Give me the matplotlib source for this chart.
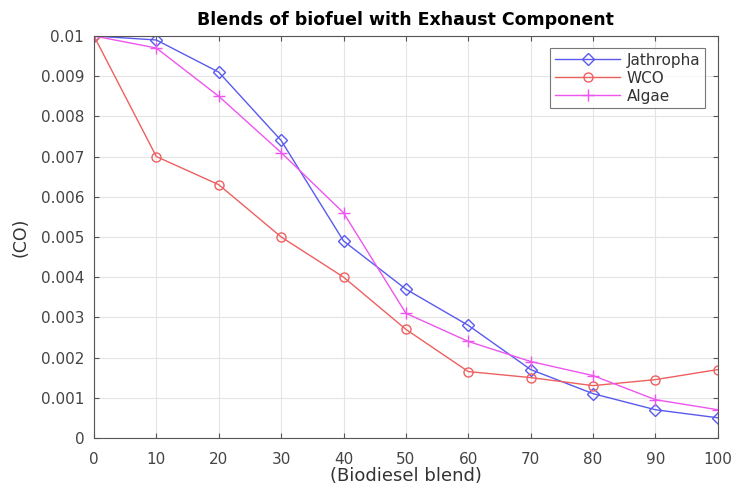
import matplotlib
matplotlib.use('Agg')
import matplotlib.pyplot as plt
import numpy as np

# Data
blend = [0, 10, 20, 30, 40, 50, 60, 70, 80, 90, 100]
jathropha = [0.0100, 0.0099, 0.0091, 0.0074, 0.0049, 0.0037, 0.0028, 0.0017, 0.0011, 0.0007, 0.0005]
wco = [0.0100, 0.0070, 0.0063, 0.0050, 0.0040, 0.0027, 0.00165, 0.0015, 0.0013, 0.00145, 0.0017]
algae = [0.0100, 0.0097, 0.0085, 0.0071, 0.0056, 0.0031, 0.0024, 0.0019, 0.00155, 0.00095, 0.0007]

yticks = [0, 0.001, 0.002, 0.003, 0.004, 0.005, 0.006, 0.007, 0.008, 0.009, 0.01]
ytick_labels = ['0', '0.001', '0.002', '0.003', '0.004', '0.005', '0.006', '0.007', '0.008', '0.009', '0.01']

fig = plt.figure(figsize=(7.34, 4.86), dpi=100)
ax = fig.add_axes([0.128, 0.099, 0.850, 0.827])

ax.plot(blend, jathropha, '-D', color='#5a5aee', markerfacecolor='none', markersize=6, lw=1.0, label='Jathropha')
ax.plot(blend, wco, '-o', color='#ee6060', markerfacecolor='none', markersize=6.5, lw=1.0, label='WCO')
ax.plot(blend, algae, '-+', color='#ee55ee', markersize=8, lw=1.0, label='Algae')

ax.set_xlim(0, 100)
ax.set_ylim(0, 0.01)
ax.set_xticks(blend)
ax.set_yticks(yticks)
ax.set_yticklabels(ytick_labels)
ax.tick_params(direction='in', top=True, right=True, labelsize=11, colors='#555555', labelcolor='#444444')
ax.tick_params(axis='x', pad=10)
ax.tick_params(axis='y', pad=7)
ax.grid(True, color='#e4e4e4', lw=0.8)
for s in ax.spines.values():
    s.set_color('#555555')

ax.set_title('Blends of biofuel with Exhaust Component', fontsize=12.5, fontweight='bold', pad=8)
ax.set_xlabel('(Biodiesel blend)', fontsize=13, color='#333333', labelpad=0)
ax.set_ylabel('(CO)', fontsize=12.5, color='#333333', labelpad=8)

leg = ax.legend(loc='upper right', bbox_to_anchor=(0.979, 0.970), borderaxespad=0,
                fancybox=False, edgecolor='#555555', fontsize=11,
                handlelength=4.3, handletextpad=0.4, borderpad=0.3, labelspacing=0.2)
leg.get_frame().set_linewidth(0.8)
for t in leg.get_texts():
    t.set_color('#333333')

fig.savefig('out.png', dpi=100)
